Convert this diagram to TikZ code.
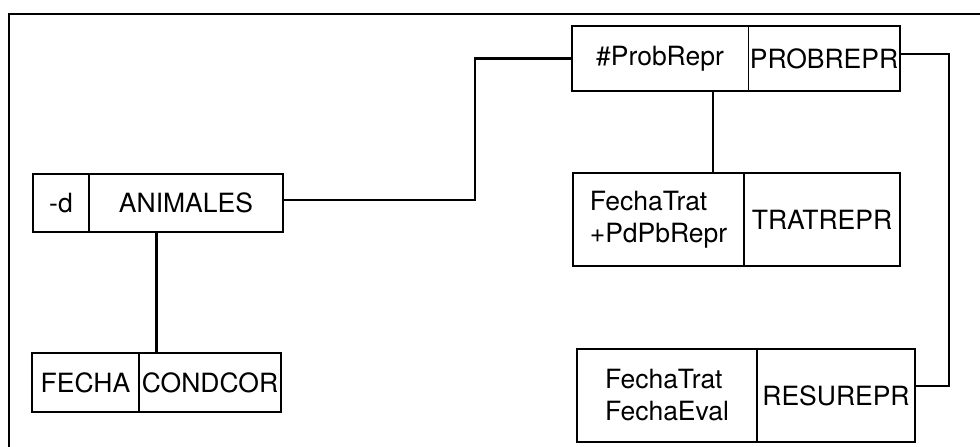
\documentclass[tikz,border=0pt]{standalone}
\usepackage{fontspec}
\setmainfont{TeX Gyre Heros}
\usetikzlibrary{fit,calc}
\begin{document}
\begin{tikzpicture}[x=1pt,y=-1pt,
  cell/.style={draw, line width=2.3pt, inner sep=0pt, outer sep=0pt, align=center,
    font=\fontsize{26.5}{32}\selectfont},
  thincell/.style={cell, line width=1pt},
  block/.style={inner sep=0pt, outer sep=0pt},
  link/.style={line width=2.3pt},
  frameline/.style={line width=2.3pt}]
\clip (0,0) rectangle (980,447);
% open frame (top and left edges)
\draw[frameline] (9,470) -- (9,14) -- (1000,14);

% ANIMALES
\node[cell, minimum width=56pt, minimum height=58pt] (animd) at (61,203) {-d};
\node[cell, minimum width=194pt, minimum height=58pt] (animn) at (186,203) {ANIMALES};
\node[block, fit=(animd)(animn)] (anim) {};

% CONDCOR
\node[cell, minimum width=107pt, minimum height=59pt] (condk) at (85.5,382.5) {FECHA};
\node[cell, minimum width=142pt, minimum height=59pt] (condn) at (210,382.5) {CONDCOR};
\node[block, fit=(condk)(condn)] (cond) {};

% PROBREPR
\node[thincell, minimum width=176pt, minimum height=65pt] (probk) at (660,58.5) {\#ProbRepr};
\node[thincell, minimum width=152pt, minimum height=65pt] (probn) at (824,58.5) {PROBREPR};
\node[block, fit=(probk)(probn)] (prob) {};
\draw[line width=2.3pt] (prob.north west) rectangle (prob.south east);

% TRATREPR
\node[cell, minimum width=171pt, minimum height=93pt, align=left] (tratk) at (658.5,219.5) {FechaTrat\\+PdPbRepr};
\node[cell, minimum width=156pt, minimum height=93pt] (tratn) at (822,219.5) {TRATREPR};
\node[block, fit=(tratk)(tratn)] (trat) {};

% RESUREPR
\node[cell, minimum width=180pt, minimum height=93pt, align=left] (resk) at (667,395.5) {FechaTrat\\FechaEval};
\node[cell, minimum width=158pt, minimum height=93pt] (resn) at (836,395.5) {RESUREPR};
\node[block, fit=(resk)(resn)] (resu) {};

% connectors
\draw[link] (cond.north) -- (cond.north |- anim.south);
\draw[link] ([yshift=3pt]anim.east) -- ++(192,0) |- (prob.west);
\draw[link] ([xshift=-23pt]prob.south) -- ([xshift=-23pt]prob.south |- trat.north);
\draw[link] ([yshift=4.5pt]prob.east) -- ++(49,0) |- ([yshift=9.5pt]resu.east);
\end{tikzpicture}
\end{document}
